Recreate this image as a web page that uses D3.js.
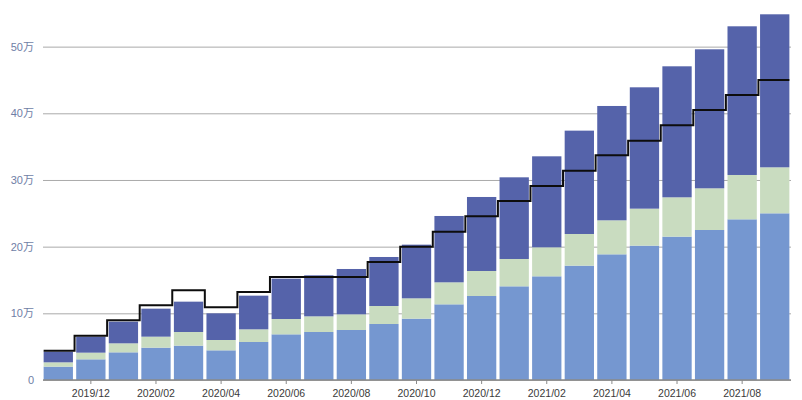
<!DOCTYPE html>
<html>
<head>
<meta charset="utf-8">
<script src="https://cdn.jsdelivr.net/npm/d3@7"></script>
<style>
  html, body { margin: 0; padding: 0; background: #fff; }
  svg { display: block; }
</style>
</head>
<body>
<div id="chart"></div>
<script>
const months = ["2019/11","2019/12","2020/01","2020/02","2020/03","2020/04","2020/05","2020/06","2020/07","2020/08","2020/09","2020/10","2020/11","2020/12","2021/01","2021/02","2021/03","2021/04","2021/05","2021/06","2021/07","2021/08","2021/09"];
// stacked series (bottom to top)
const seriesLight = [20000,31000,41500,48500,51500,44500,57000,68500,72000,75000,84000,92000,113500,126000,140500,155500,171500,188500,201500,215000,225000,241000,250000];
const seriesGreen = [6500,10000,13500,16500,20500,15500,19000,23000,23500,23500,27000,30500,33000,37500,41000,43500,47500,51000,55500,59000,62500,66500,69000];
const seriesDark  = [16000,24000,32500,42000,45500,40000,50500,60500,61500,68000,73500,80500,99500,111000,122500,136500,155000,171500,182000,196500,208500,223000,229500];
// step line
const lineValues  = [44000,66500,89500,112000,134500,109000,132000,154500,154500,154500,177000,200000,222500,245500,268500,291000,314000,337000,359000,382000,405000,427500,450000];
const yTicks = [0,100000,200000,300000,400000,500000];
const xTickLabels = ["2019/12","2020/02","2020/04","2020/06","2020/08","2020/10","2020/12","2021/02","2021/04","2021/06","2021/08"];

const W = 802, H = 400;
const mLeft = 42, mRight = 791, mTop = 13.3, mBottom = 380;

const svg = d3.select("#chart").append("svg").attr("width", W).attr("height", H);

const x = d3.scaleBand().domain(months).range([mLeft, mRight]).paddingInner(0.1).paddingOuter(0.05);
const y = d3.scaleLinear().domain([0, 550000]).range([mBottom, mTop]);

// grid + y labels
const yAxis = d3.axisLeft(y).tickValues(yTicks).tickSize(-(mRight - mLeft - 1)).tickPadding(9)
  .tickFormat(d => d === 0 ? "0" : (d / 10000) + "万");
const gy = svg.append("g").attr("transform", `translate(${mLeft + 1},0)`).call(yAxis);
gy.select(".domain").remove();
gy.selectAll(".tick line").attr("stroke", "#aaaaaa").attr("stroke-width", 1);
gy.selectAll(".tick text").attr("fill", "#6f7ea6")
  .style("font-family", "'Liberation Sans', Arial, 'Noto Sans CJK SC', sans-serif").style("font-size", "11px");

// stacked bars
const colors = ["#7597d0", "#c9dcc0", "#5563aa"];
const stackData = months.map((m, i) => ({ month: m, a: seriesLight[i], b: seriesGreen[i], c: seriesDark[i] }));
const stack = d3.stack().keys(["a", "b", "c"]);
const layers = stack(stackData);

svg.append("g").selectAll("g").data(layers).join("g")
  .attr("fill", (d, i) => colors[i])
  .selectAll("rect").data(d => d).join("rect")
  .attr("x", d => x(d.data.month))
  .attr("width", x.bandwidth())
  .attr("y", d => y(d[1]))
  .attr("height", d => y(d[0]) - y(d[1]));

// x axis
const gx = svg.append("g").attr("transform", `translate(0,${mBottom})`)
  .call(d3.axisBottom(x).tickValues(xTickLabels).tickSize(4).tickPadding(6).tickSizeOuter(0));
gx.select(".domain").attr("stroke", "#8a8a8a").attr("stroke-width", 1.5)
  .attr("d", `M${mLeft + 1},0H${mRight}`);
gx.selectAll(".tick line").attr("stroke", "#8a8a8a");
gx.selectAll(".tick text").attr("fill", "#3a3a3a")
  .style("font-family", "'Liberation Sans', Arial, sans-serif").style("font-size", "10.5px");

// step line
const gap = x.step() * x.paddingInner();
const pts = months.map((m, i) => [i === 0 ? x(m) : x(m) - gap / 2, lineValues[i]]);
pts.push([x(months[months.length - 1]) + x.bandwidth(), lineValues[lineValues.length - 1]]);
const line = d3.line().x(d => d[0]).y(d => y(d[1])).curve(d3.curveStepAfter);
svg.append("path").datum(pts).attr("d", line)
  .attr("fill", "none").attr("stroke", "#0d0d0d").attr("stroke-width", 2);
</script>
</body>
</html>
